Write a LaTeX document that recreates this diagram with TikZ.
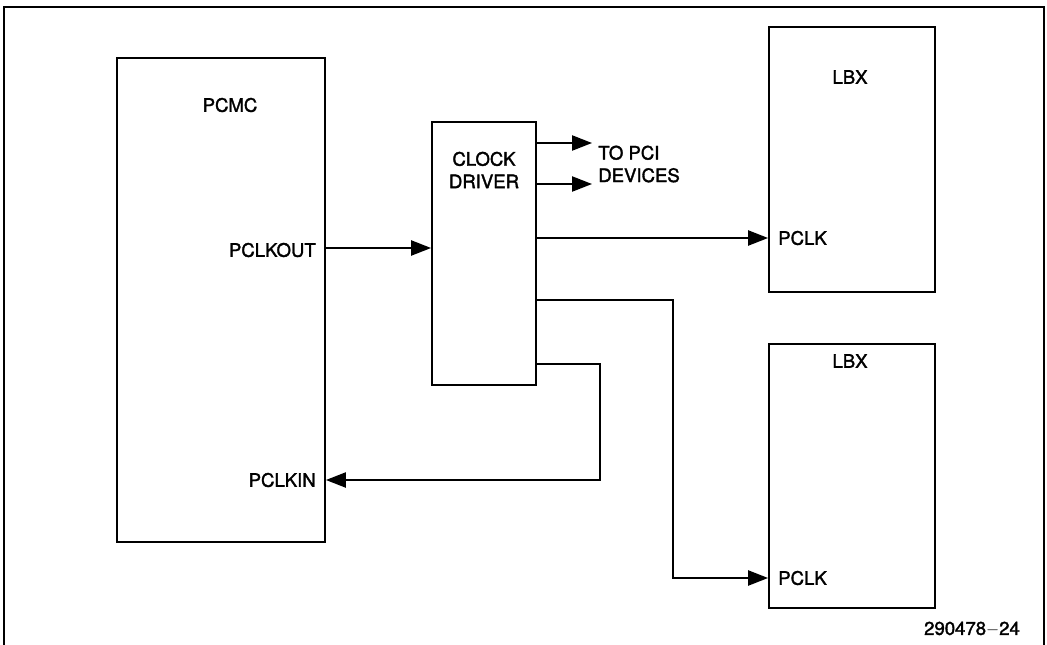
\documentclass[tikz,border=0pt]{standalone}
\usepackage{fontspec}
\setmainfont{TeX Gyre Heros}
\newfontfamily\lblfont{TeX Gyre Heros}[FakeBold=1.8]
\usetikzlibrary{arrows.meta, positioning, calc}

\begin{document}
\begin{tikzpicture}[x=0.025cm, y=-0.025cm,
  blk/.style={rectangle, draw, line width=1.3pt, inner sep=0pt},
  lbl/.style={font=\lblfont\fontsize{13.2}{16}\selectfont, inner sep=0pt},
  arr/.style={-{Triangle[length=0.5cm,width=0.38cm]}, line width=1.2pt},
  frm/.style={line width=1.3pt}
]
\useasboundingbox (0,0) rectangle (1047,645);
\draw[frm] (4,645) -- (4,7) -- (1044,7) -- (1044,645);

% blocks
\node[blk, minimum width=5.2cm, minimum height=12.1cm] (pcmc) at (221,300) {};
\node[blk, minimum width=2.6cm, minimum height=6.575cm] (clk) at (484,253.5) {};
\node[blk, minimum width=4.15cm, minimum height=6.625cm] (lbx1) at (852,159.5) {};
\node[blk, minimum width=4.15cm, minimum height=6.6cm] (lbx2) at (852,476) {};

% texts
\node[lbl] (pcmctxt) at (230,105) {PCMC};
\node[lbl, align=center] (clktxt) at (484,170) {CLOCK\\DRIVER};
\node[lbl] (lbx1txt) at (850,77) {LBX};
\node[lbl] (lbx2txt) at (850,361) {LBX};
\node[lbl, anchor=east] (outlbl) at (316,250) {PCLKOUT};
\node[lbl, anchor=east] (inlbl) at (316,480) {PCLKIN};
\node[lbl, anchor=west] (p1) at (778,238) {PCLK};
\node[lbl, anchor=west] (p2) at (778,578) {PCLK};
\node[lbl, align=left, anchor=west] (pci) at (598,164) {TO PCI\\DEVICES};
\node[lbl] (fig) at (972,629) {290478$-$24};

\coordinate (pcia) at (592,143);
\coordinate (pcib) at (592,184);
\coordinate (bend2) at (673,300);
\coordinate (bend3) at (600,364);

% connectors
\draw[arr] (pcmc.east |- 0,248) -- (clk.west |- 0,248);
\draw[arr] (clk.east |- pcia) -- (pcia);
\draw[arr] (clk.east |- pcib) -- (pcib);
\draw[arr] (clk.east |- p1) -- (lbx1.west |- p1);
\draw[arr] (clk.east |- bend2) -- (bend2) |- (lbx2.west |- p2);
\draw[arr] (clk.east |- bend3) -- (bend3) |- (pcmc.east |- inlbl);
\end{tikzpicture}
\end{document}
